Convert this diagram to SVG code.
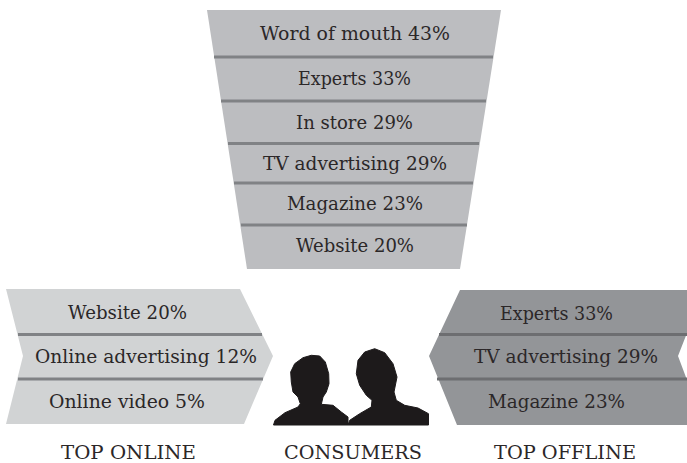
<svg xmlns="http://www.w3.org/2000/svg" width="687" height="463" viewBox="0 0 687 463">
<style>
text{font-family:"DejaVu Serif","Liberation Serif",serif;font-size:19px;fill:#2b2728}
.cap{font-size:19px}
.f{fill:#bcbdc0}.l{fill:#d1d3d4}.r{fill:#939598}
.sep{stroke:#808285;stroke-width:3;fill:none}
.sepd{stroke:#6d6e71;stroke-width:3;fill:none}
.sil{fill:#1d1a1b;stroke:#1d1a1b;stroke-width:1;stroke-linejoin:round}
</style>
<rect width="687" height="463" fill="#fff"/>
<g id="funnel">
<path class="f" d="M207 10H501L460 269H247Z"/>
<text x="260" y="40" textLength="190" lengthAdjust="spacingAndGlyphs">Word of mouth 43%</text>
<text x="298" y="85" textLength="113" lengthAdjust="spacingAndGlyphs">Experts 33%</text>
<text x="296" y="129" textLength="117" lengthAdjust="spacingAndGlyphs">In store 29%</text>
<text x="263" y="170" textLength="184" lengthAdjust="spacingAndGlyphs">TV advertising 29%</text>
<text x="287" y="210" textLength="136" lengthAdjust="spacingAndGlyphs">Magazine 23%</text>
<text x="296" y="252" textLength="118" lengthAdjust="spacingAndGlyphs">Website 20%</text>
</g>
<g id="online">
<path class="l" d="M6 289H240L273 356L244 424H6L23 356Z"/>
<text x="68" y="319" textLength="119" lengthAdjust="spacingAndGlyphs">Website 20%</text>
<text x="35" y="363" textLength="222" lengthAdjust="spacingAndGlyphs">Online advertising 12%</text>
<text x="49" y="408" textLength="156" lengthAdjust="spacingAndGlyphs">Online video 5%</text>
<text class="cap" x="61" y="459" textLength="135" lengthAdjust="spacingAndGlyphs">TOP ONLINE</text>
</g>
<g id="consumers">
<path class="sil" d="M273.500 425L275 420.300L285 412.700L298 407L300.300 403.700L298 397L293 392L291.300 382L290.700 372L294.700 363.700L303 357.700L311.300 355.300L319.700 356L325.300 362L328.700 373.700L329 383.700L326.300 392L323 397L321.300 404.300L333 405.300L341.300 412L348 417V425Z"/>
<path class="sil" d="M348 425L349.700 420.300L359.700 413.700L371.300 407L372 400.300L366.300 395.300L359.700 385.300L356.300 373.700L358 360.300L364.700 352L374.700 348.700L384.700 352.700L393 363.700L397 377L394 392L396.300 400.300L404.700 405.300L418 408L428.500 413.700V425Z"/>
<text class="cap" x="284" y="459" textLength="138" lengthAdjust="spacingAndGlyphs">CONSUMERS</text>
</g>
<g id="offline">
<path class="r" d="M460 290H687V333L678 356L687 380V425H457L429 356Z"/>
<text x="500" y="320" textLength="113" lengthAdjust="spacingAndGlyphs">Experts 33%</text>
<text x="474" y="363" textLength="184" lengthAdjust="spacingAndGlyphs">TV advertising 29%</text>
<text x="488" y="408" textLength="137" lengthAdjust="spacingAndGlyphs">Magazine 23%</text>
<text class="cap" x="494" y="459" textLength="142" lengthAdjust="spacingAndGlyphs">TOP OFFLINE</text>
</g>
<g id="connectors">
<path class="sep" d="M214 57H493M221 101H486M228 143.500H479M234 183H473M241 225H467"/>
<path class="sep" d="M18 334.500H262M18 379H263"/>
<path class="sepd" d="M439 334.500H687M437 379H687"/>
</g>
</svg>
